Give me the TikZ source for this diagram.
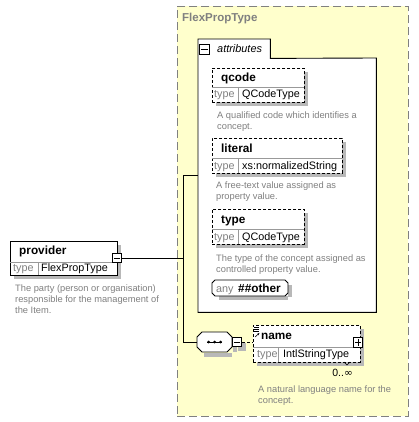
\documentclass[tikz,border=0pt]{standalone}
\usepackage{fontspec}
\setmainfont{Liberation Sans}
\newfontfamily\djv{DejaVu Sans}
\usetikzlibrary{arrows.meta}
\definecolor{ylw}{RGB}{255,255,204}
\definecolor{txtgray}{RGB}{128,128,128}
\tikzset{
  elbox/.style={draw=black, line width=0.8pt, dash pattern=on 3pt off 2pt, fill=white, anchor=north west, inner sep=0pt},
  solidbox/.style={draw=black, line width=0.8pt, fill=white, anchor=north west, inner sep=0pt},
  pmbox/.style={draw=black, line width=0.7pt, fill=white, minimum size=9.5pt, inner sep=0pt},
  nametxt/.style={anchor=base west, inner sep=0pt, font=\fontsize{11.8}{13}\selectfont\bfseries},
  typelbl/.style={anchor=base west, inner sep=0pt, text=txtgray, font=\fontsize{10.8}{12}\selectfont},
  typetxt/.style={anchor=base west, inner sep=0pt, font=\fontsize{10.8}{12}\selectfont},
  desctxt/.style={anchor=base west, inner sep=0pt, text=txtgray, font=\fontsize{9.3}{11}\selectfont},
  divline/.style={draw=gray!80, line width=0.6pt},
  conn/.style={draw=black, line width=0.8pt},
  shadowline/.style={draw=black!28, line width=4pt, line cap=butt},
}
\begin{document}
\begin{tikzpicture}[x=1pt,y=-1pt]
\useasboundingbox (0,0) rectangle (418,422);
\fill[white] (0,0) rectangle (418,422);

% complex type container
\node[draw=txtgray, line width=0.8pt, dash pattern=on 8pt off 4pt, fill=ylw, anchor=north west,
      minimum width=231pt, minimum height=410pt, inner sep=0pt] (flex) at (177,6) {};
\node[anchor=base west, inner sep=0pt, text=txtgray, font=\fontsize{11.5}{13}\selectfont\bfseries] (flext) at (182,22) {FlexPropType};

% attributes group
\node[anchor=north west, inner sep=0pt, minimum width=178pt, minimum height=254pt, fill=white] (attbox) at (198,58) {};
\node[anchor=north west, inner sep=0pt, minimum width=72pt, minimum height=19pt, fill=white] (tab) at (198,39) {};
\draw[line width=0.9pt] (tab.north west) -- (tab.north east) -- (tab.south east) -- (attbox.north east)
   -- (attbox.south east) -- (attbox.south west) -- cycle;

% shadows (right and bottom strips)
\draw[shadowline] (306,72) -- (306,106) (216,104) -- (304,104);
\draw[shadowline] (344,142) -- (344,177) (216,175) -- (342,175);
\draw[shadowline] (306,213) -- (306,248) (216,246) -- (304,246);
\draw[shadowline] (290,285) -- (290,297) (219,298) -- (288,298);
\draw[shadowline] (234.5,340) -- (234.5,352) (204,354.5) -- (232,354.5);
\draw[shadowline] (244,343) -- (244,351) (238,349) -- (242,349);
\draw[shadowline] (362,329) -- (362,366) (257,364) -- (360,364);
\draw[shadowline] (119,245) -- (119,279) (14,277) -- (117,277);

\node[pmbox] (tabm) at (204.5,49.5) {};
\draw[line width=0.7pt] ([xshift=2pt]tabm.west) -- ([xshift=-2pt]tabm.east);
\node[anchor=base west, inner sep=0pt, font=\fontsize{10.9}{12}\selectfont\itshape] (tabt) at (217,53) {attributes};

% qcode
\node[elbox, minimum width=92pt, minimum height=34pt] (qcode) at (212,68) {};
\draw[divline] (212,87) -- (304,87);
\draw[divline] (238,87) -- (238,102);
\node[nametxt] (qcodet) at (221,81.5) {qcode};
\node[typelbl] (qcodel) at (214,98) {type};
\node[typetxt] (qcodety) at (242,98) {QCodeType};
\node[desctxt] (qcoded1) at (217,119) {A qualified code which identifies a};
\node[desctxt] (qcoded2) at (217,130) {concept.};

% literal
\node[elbox, minimum width=130pt, minimum height=35pt] (literal) at (212,138) {};
\draw[divline] (212,158) -- (342,158);
\draw[divline] (238,158) -- (238,173);
\node[nametxt] (literalt) at (221,152) {literal};
\node[typelbl] (literall) at (214,169) {type};
\node[typetxt] (literalty) at (242,169) {xs:normalizedString};
\node[desctxt] (literald1) at (216,188) {A free-text value assigned as};
\node[desctxt] (literald2) at (216,199) {property value.};

% type
\node[elbox, minimum width=92pt, minimum height=35pt] (typeb) at (212,209) {};
\draw[divline] (212,229) -- (304,229);
\draw[divline] (238,229) -- (238,244);
\node[nametxt] (typet) at (221,223) {type};
\node[typelbl] (typel) at (214,240) {type};
\node[typetxt] (typety) at (242,240) {QCodeType};
\node[desctxt] (typed1) at (216,261) {The type of the concept assigned as};
\node[desctxt] (typed2) at (216,272) {controlled property value.};

% any ##other
\node[anchor=north west, inner sep=0pt, minimum width=76pt, minimum height=16pt] (any) at (212,280) {};
\filldraw[fill=white, draw=black, line width=0.8pt]
  (215,280) -- (285,280) -- (288,283) -- (288,293) -- (285,296) -- (215,296) -- (212,293) -- (212,283) -- cycle;
\node[typelbl] (anyl) at (216,292.5) {any};
\node[nametxt] (anyt) at (238,292.5) {\#\#other};

% sequence compositor
\node[inner sep=0pt, minimum width=35pt, minimum height=21pt] (seq) at (214.5,342) {};
\filldraw[fill=white, draw=black, line width=0.8pt]
  (202,332) -- (227,332) -- (232,337) -- (232,347) -- (227,352) -- (202,352) -- (197,347) -- (197,337) -- cycle;
\draw[line width=0.8pt] (207,342) -- (222,342);
\foreach \xx in {208.5,214.5,220.5} \fill (\xx,342) circle (1.5pt);
\node[pmbox] (seqm) at (237,342) {};
\draw[line width=0.7pt] ([xshift=2pt]seqm.west) -- ([xshift=-2pt]seqm.east);

% name
\node[elbox, minimum width=107pt, minimum height=37pt] (name) at (253,325) {};
\draw[divline] (253,347) -- (360,347);
\draw[divline] (278,347) -- (278,362);
\draw[line width=0.6pt] (254,327) -- (259,327) (254,329) -- (259,329) (254,331) -- (259,331);
\draw[line width=0.6pt,-{Stealth[length=2.5pt]}] (255,337) -- (259.5,333);
\node[nametxt] (namet) at (261,339.5) {name};
\node[typelbl] (namel) at (257,357.5) {type};
\node[typetxt] (namety) at (283,357.5) {IntlStringType};
\node[pmbox] (namep) at (358,342.5) {};
\draw[line width=0.7pt] ([xshift=2pt]namep.west) -- ([xshift=-2pt]namep.east)
      ([yshift=2pt]namep.south) -- ([yshift=-2pt]namep.north);
\draw[line width=0.6pt] (344,362) -- (347,365) -- (350,362);
\node[anchor=base east, inner sep=0pt, font=\fontsize{10.5}{12}\selectfont] (occ) at (353,376) {0..{\djv ∞}};
\node[desctxt] (named1) at (258,392.5) {A natural language name for the};
\node[desctxt] (named2) at (258,403.5) {concept.};

% provider
\node[solidbox, minimum width=107pt, minimum height=34pt] (prov) at (10,241) {};
\draw[divline] (10,262) -- (117,262);
\draw[divline] (38,262) -- (38,275);
\node[nametxt] (provt) at (19,254) {provider};
\node[typelbl] (provl) at (13,271.5) {type};
\node[typetxt] (provty) at (41,271.5) {FlexPropType};
\node[pmbox] (provm) at (117,258) {};
\draw[line width=0.7pt] ([xshift=2pt]provm.west) -- ([xshift=-2pt]provm.east);
\node[desctxt] (provd1) at (15,291) {The party (person or organisation)};
\node[desctxt] (provd2) at (15,302) {responsible for the management of};
\node[desctxt] (provd3) at (15,313) {the Item.};

% connectors
\coordinate (c1) at (183,175);
\coordinate (c2) at (183,342);
\draw[conn] (provm.east) -- (provm.east -| c1);
\draw[conn] (c1 -| attbox.west) -- (c1) -- (c2) -- (seq.west);
\draw[conn, dash pattern=on 3pt off 2pt] (seqm.east) -- (seqm.east -| name.west);
\end{tikzpicture}
\end{document}
